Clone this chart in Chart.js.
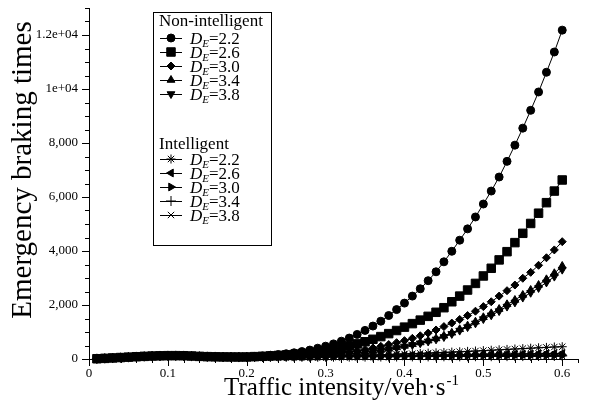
<!DOCTYPE html>
<html>
<head>
<meta charset="utf-8">
<script src="https://cdn.jsdelivr.net/npm/chart.js@4.4.1/dist/chart.umd.min.js"></script>
<style>
  html, body { margin: 0; padding: 0; background: #fff; }
  #wrap { width: 590px; height: 405px; position: relative; }
</style>
</head>
<body>
<div id="wrap"><canvas id="chart"></canvas></div>
<script>
// traffic intensity (veh/s)
var intensity = [0.01, 0.02, 0.03, 0.04, 0.05, 0.06, 0.07, 0.08, 0.09, 0.10,
  0.11, 0.12, 0.13, 0.14, 0.15, 0.16, 0.17, 0.18, 0.19, 0.20,
  0.21, 0.22, 0.23, 0.24, 0.25, 0.26, 0.27, 0.28, 0.29, 0.30,
  0.31, 0.32, 0.33, 0.34, 0.35, 0.36, 0.37, 0.38, 0.39, 0.40,
  0.41, 0.42, 0.43, 0.44, 0.45, 0.46, 0.47, 0.48, 0.49, 0.50,
  0.51, 0.52, 0.53, 0.54, 0.55, 0.56, 0.57, 0.58, 0.59, 0.60];

var deLevels = ['2.2', '2.6', '3.0', '3.4', '3.8'];
var groupTitles = ['Non-intelligent', 'Intelligent'];

// emergency braking times, non-intelligent vehicles
var nonIntel22 = [10, 25, 40, 55, 70, 85, 100, 112, 120, 125, 125, 122, 112, 98, 88, 82, 78, 76, 75, 76,
  95, 115, 140, 165, 195, 230, 275, 330, 400, 475, 560, 660, 775, 910, 1060, 1220, 1400, 1610, 1830, 2070,
  2330, 2600, 2900, 3230, 3600, 3990, 4400, 4820, 5260, 5740, 6220, 6740, 7320, 7920, 8550, 9210, 9890, 10620, 11370, 12180];
var nonIntel26 = [10, 24, 39, 54, 69, 84, 98, 110, 118, 123, 124, 121, 111, 97, 87, 81, 77, 75, 74, 75,
  88, 100, 115, 130, 148, 168, 192, 220, 255, 300, 355, 415, 485, 560, 640, 730, 830, 940, 1055, 1180,
  1310, 1440, 1580, 1730, 1900, 2120, 2330, 2555, 2800, 3075, 3360, 3670, 3975, 4310, 4655, 5020, 5400, 5790, 6220, 6630];
var nonIntel30 = [10, 24, 38, 53, 68, 82, 96, 108, 116, 121, 122, 119, 109, 96, 86, 80, 76, 74, 73, 74,
  84, 89, 94, 100, 108, 116, 126, 138, 152, 170, 195, 225, 262, 305, 355, 410, 470, 535, 605, 680,
  765, 860, 960, 1075, 1200, 1330, 1465, 1610, 1770, 1940, 2120, 2330, 2530, 2740, 2990, 3210, 3470, 3750, 4040, 4345];
var nonIntel34 = [10, 23, 37, 52, 66, 80, 94, 106, 114, 119, 120, 117, 108, 95, 85, 79, 75, 73, 72, 73,
  82, 85, 88, 91, 95, 100, 107, 115, 125, 137, 153, 173, 197, 225, 258, 295, 335, 380, 430, 485,
  545, 610, 680, 760, 860, 970, 1100, 1235, 1380, 1545, 1690, 1850, 2025, 2185, 2370, 2555, 2740, 2950, 3175, 3445];
var nonIntel38 = [10, 23, 36, 51, 65, 79, 93, 105, 113, 118, 119, 116, 107, 94, 84, 78, 74, 72, 71, 72,
  80, 83, 86, 89, 92, 97, 103, 111, 120, 131, 146, 165, 188, 215, 246, 281, 320, 363, 411, 464,
  522, 584, 651, 727, 815, 930, 1052, 1182, 1321, 1480, 1620, 1775, 1942, 2097, 2276, 2454, 2633, 2836, 3052, 3310];

// emergency braking times, intelligent vehicles
var intel22 = [10, 24, 39, 54, 69, 84, 98, 110, 118, 123, 124, 121, 111, 97, 87, 81, 77, 75, 74, 75,
  85, 92, 96, 98, 100, 102, 105, 108, 112, 116, 120, 125, 130, 136, 143, 150, 158, 167, 176, 186,
  196, 207, 218, 230, 242, 255, 268, 282, 296, 310, 325, 340, 355, 370, 385, 400, 415, 430, 445, 455];
var intel26 = [10, 24, 38, 53, 68, 82, 96, 108, 116, 121, 122, 119, 109, 96, 86, 80, 76, 74, 73, 74,
  78, 82, 85, 87, 89, 91, 93, 96, 98, 101, 104, 106, 110, 113, 116, 119, 123, 126, 129, 133,
  137, 140, 144, 148, 151, 155, 159, 162, 166, 170, 173, 177, 181, 184, 188, 191, 195, 198, 202, 205];
var intel30 = [10, 23, 37, 52, 66, 80, 94, 106, 114, 119, 120, 117, 108, 95, 85, 79, 75, 73, 72, 73,
  76, 78, 80, 82, 83, 85, 86, 88, 90, 91, 93, 95, 96, 98, 100, 101, 103, 105, 106, 108,
  110, 111, 113, 115, 117, 118, 120, 122, 124, 125, 127, 129, 131, 133, 134, 136, 138, 140, 141, 143];
var intel34 = [10, 23, 36, 51, 65, 79, 93, 105, 113, 118, 119, 116, 107, 94, 84, 78, 74, 72, 71, 72,
  74, 75, 77, 78, 78, 80, 81, 81, 83, 84, 85, 85, 87, 88, 88, 90, 91, 92, 92, 94,
  95, 95, 97, 98, 99, 100, 100, 102, 103, 104, 104, 106, 107, 108, 108, 110, 111, 112, 112, 114];
var intel38 = [10, 22, 36, 50, 64, 78, 92, 104, 112, 117, 118, 115, 106, 93, 83, 77, 73, 71, 70, 71,
  72, 73, 74, 74, 75, 76, 77, 77, 78, 79, 80, 80, 81, 82, 83, 83, 84, 85, 86, 86,
  87, 88, 89, 89, 90, 91, 92, 92, 93, 94, 95, 95, 96, 97, 98, 98, 99, 100, 101, 101];

var xTickLabels = ['0', '0.1', '0.2', '0.3', '0.4', '0.5', '0.6'];
var yTickValues = [0, 2000, 4000, 6000, 8000, 10000, 12000];
var yTickLabels = ['0', '2,000', '4,000', '6,000', '8,000', '1e+04', '1.2e+04'];

var FONT = 'Liberation Serif';

function series(values, style, radius, rotation) {
  return {
    data: values.map(function (v, i) { return { x: intensity[i], y: v }; }),
    borderColor: '#000',
    backgroundColor: '#000',
    borderWidth: 1,
    pointStyle: style,
    pointRadius: radius,
    pointRotation: rotation || 0,
    pointBorderWidth: 1,
    pointBorderColor: '#000',
    pointBackgroundColor: '#000',
    pointHoverRadius: radius,
    tension: 0,
    clip: false
  };
}

var datasets = [
  series(nonIntel22, 'circle', 4),
  series(nonIntel26, 'rect', 6),
  series(nonIntel30, 'rectRot', 4),
  series(nonIntel34, 'triangle', 4.5),
  series(nonIntel38, 'triangle', 4.5, 180),
  series(intel22, 'star', 4.5),
  series(intel26, 'triangle', 4.5, 270),
  series(intel30, 'triangle', 4.5, 90),
  series(intel34, 'cross', 5),
  series(intel38, 'crossRot', 4.5)
];

// tick marks (major/minor), axis titles and the grouped legend
var decorations = {
  id: 'decorations',
  afterDraw: function (chart) {
    var ctx = chart.ctx;
    var xs = chart.scales.x, ys = chart.scales.y;
    var area = chart.chartArea;
    ctx.save();
    ctx.strokeStyle = '#000';
    ctx.fillStyle = '#000';
    ctx.lineWidth = 1;

    xs.ticks.forEach(function (t) {
      var px = Math.round(xs.getPixelForValue(t.value)) + 0.5;
      var major = Math.abs(t.value * 10 - Math.round(t.value * 10)) < 1e-6;
      ctx.beginPath();
      ctx.moveTo(px, area.bottom);
      ctx.lineTo(px, area.bottom + (major ? 7 : 4));
      ctx.stroke();
    });
    ys.ticks.forEach(function (t) {
      var py = Math.round(ys.getPixelForValue(t.value)) + 0.5;
      var major = t.value % 2000 === 0;
      ctx.beginPath();
      ctx.moveTo(area.left, py);
      ctx.lineTo(area.left - (major ? 7 : 4), py);
      ctx.stroke();
    });

    // y title
    ctx.save();
    ctx.translate(23, 170);
    ctx.rotate(-Math.PI / 2);
    ctx.font = '29px "' + FONT + '"';
    ctx.textAlign = 'center';
    ctx.textBaseline = 'middle';
    ctx.fillText('Emergency braking times', 0, 0);
    ctx.restore();

    // x title with superscript
    var main = 'Traffic intensity/veh\u00b7s', sup = '-1';
    ctx.font = '25px "' + FONT + '"';
    var w1 = ctx.measureText(main).width;
    ctx.font = '15px "' + FONT + '"';
    var w2 = ctx.measureText(sup).width;
    var x0 = 341 - (w1 + w2) / 2;
    ctx.textAlign = 'left';
    ctx.textBaseline = 'alphabetic';
    ctx.font = '25px "' + FONT + '"';
    ctx.fillText(main, x0, 395);
    ctx.font = '15px "' + FONT + '"';
    ctx.fillText(sup, x0 + w1 + 1, 385);

    // legend box
    ctx.fillStyle = '#fff';
    ctx.fillRect(153, 12, 118, 233);
    ctx.strokeRect(153.5, 12.5, 118, 233);
    ctx.fillStyle = '#000';

    var groups = [
      { title: groupTitles[0], titleY: 26, firstY: 38, start: 0 },
      { title: groupTitles[1], titleY: 149, firstY: 159, start: 5 }
    ];
    groups.forEach(function (g) {
      ctx.font = '17px "' + FONT + '"';
      ctx.textAlign = 'left';
      ctx.textBaseline = 'alphabetic';
      ctx.fillText(g.title, 159, g.titleY);
      deLevels.forEach(function (lv, k) {
        var ds = chart.data.datasets[g.start + k];
        var cy = g.firstY + k * 14;
        ctx.beginPath();
        ctx.moveTo(160, cy + 0.5);
        ctx.lineTo(182, cy + 0.5);
        ctx.stroke();
        Chart.helpers.drawPoint(ctx, {
          pointStyle: ds.pointStyle,
          radius: ds.pointRadius,
          rotation: ds.pointRotation,
          borderWidth: 1
        }, 171, cy);
        var tx = 190, by = cy + 6;
        ctx.font = 'italic 17px "' + FONT + '"';
        ctx.fillText('D', tx, by);
        tx += ctx.measureText('D').width;
        ctx.font = 'italic 11px "' + FONT + '"';
        ctx.fillText('E', tx, by + 3);
        tx += ctx.measureText('E').width;
        ctx.font = '17px "' + FONT + '"';
        ctx.fillText('=' + lv, tx, by);
      });
    });
    ctx.restore();
  }
};

Chart.defaults.font.family = FONT;
Chart.defaults.color = '#000';

var ctx = document.getElementById('chart').getContext('2d');
var chart = new Chart(ctx, {
  type: 'line',
  data: { datasets: datasets },
  options: {
    responsive: true,
    maintainAspectRatio: false,
    animation: false,
    layout: { padding: { left: 29, top: 8, right: 12, bottom: 0 } },
    plugins: { legend: { display: false }, tooltip: { enabled: false } },
    scales: {
      x: {
        type: 'linear',
        min: 0,
        max: 0.62,
        grid: { display: false, drawTicks: false },
        border: { display: true, color: '#000', width: 1 },
        ticks: {
          stepSize: 0.02,
          autoSkip: false,
          maxRotation: 0,
          padding: 7,
          font: { size: 13 },
          callback: function (value) {
            var i = Math.round(value * 10);
            return Math.abs(value * 10 - i) < 1e-6 && i < xTickLabels.length ? xTickLabels[i] : '';
          }
        },
        afterFit: function (scale) {
          scale.height = 46;
          scale.paddingLeft = 0;
          scale.paddingRight = 0;
        }
      },
      y: {
        min: 0,
        max: 13000,
        grid: { display: false, drawTicks: false },
        border: { display: true, color: '#000', width: 1 },
        ticks: {
          stepSize: 500,
          autoSkip: false,
          padding: 11,
          font: { size: 13 },
          callback: function (value) {
            var i = yTickValues.indexOf(value);
            return i >= 0 ? yTickLabels[i] : '';
          }
        },
        afterFit: function (scale) {
          scale.width = 60;
          scale.paddingTop = 0;
          scale.paddingBottom = 0;
        }
      }
    }
  },
  plugins: [decorations]
});
</script>
</body>
</html>
